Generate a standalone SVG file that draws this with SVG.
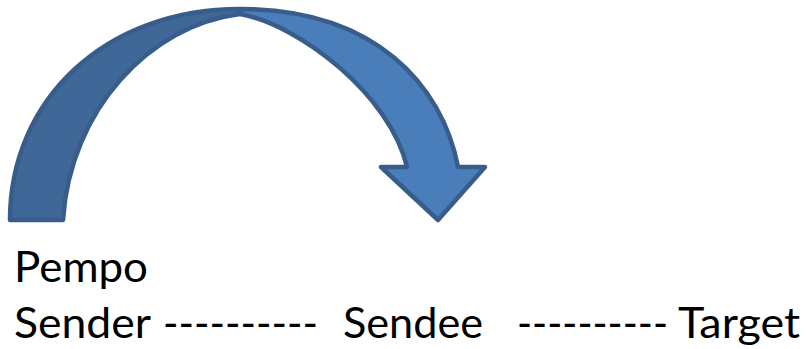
<svg xmlns="http://www.w3.org/2000/svg" width="806" height="349" viewBox="0 0 806 349">
<style>
.band{stroke:#385D8A;stroke-width:4.5;stroke-linejoin:round}
.back{fill:#3F6797}
.front{fill:#4A7EBB}
text{font-family:Lato,"Open Sans","Liberation Sans",sans-serif;font-size:42px;fill:#000}
</style>
<rect width="806" height="349" fill="#fff"/>
<g id="curved-arrow">
<path class="band back" d="M10,220 C10,100 105,9 240,9 L240,14 C150,25 70,110 63,220 Z"/>
<path class="band front" d="M240,9 C375,9 442,85 458,167 L485,167 L438,220 L381,167 L407,167 C390,95 300,25 240,14 Z"/>
</g>
<g id="pempo"><text x="14" y="282" textLength="134" lengthAdjust="spacingAndGlyphs">Pempo</text></g>
<g id="sender"><text x="14" y="338" textLength="137" lengthAdjust="spacingAndGlyphs">Sender</text></g>
<g id="dash1"><text x="163" y="338" textLength="155" lengthAdjust="spacingAndGlyphs">----------</text></g>
<g id="sendee"><text x="343" y="338" textLength="140" lengthAdjust="spacingAndGlyphs">Sendee</text></g>
<g id="dash2"><text x="517" y="338" textLength="151" lengthAdjust="spacingAndGlyphs">----------</text></g>
<g id="target"><text x="678" y="338" textLength="122" lengthAdjust="spacingAndGlyphs">Target</text></g>
</svg>
